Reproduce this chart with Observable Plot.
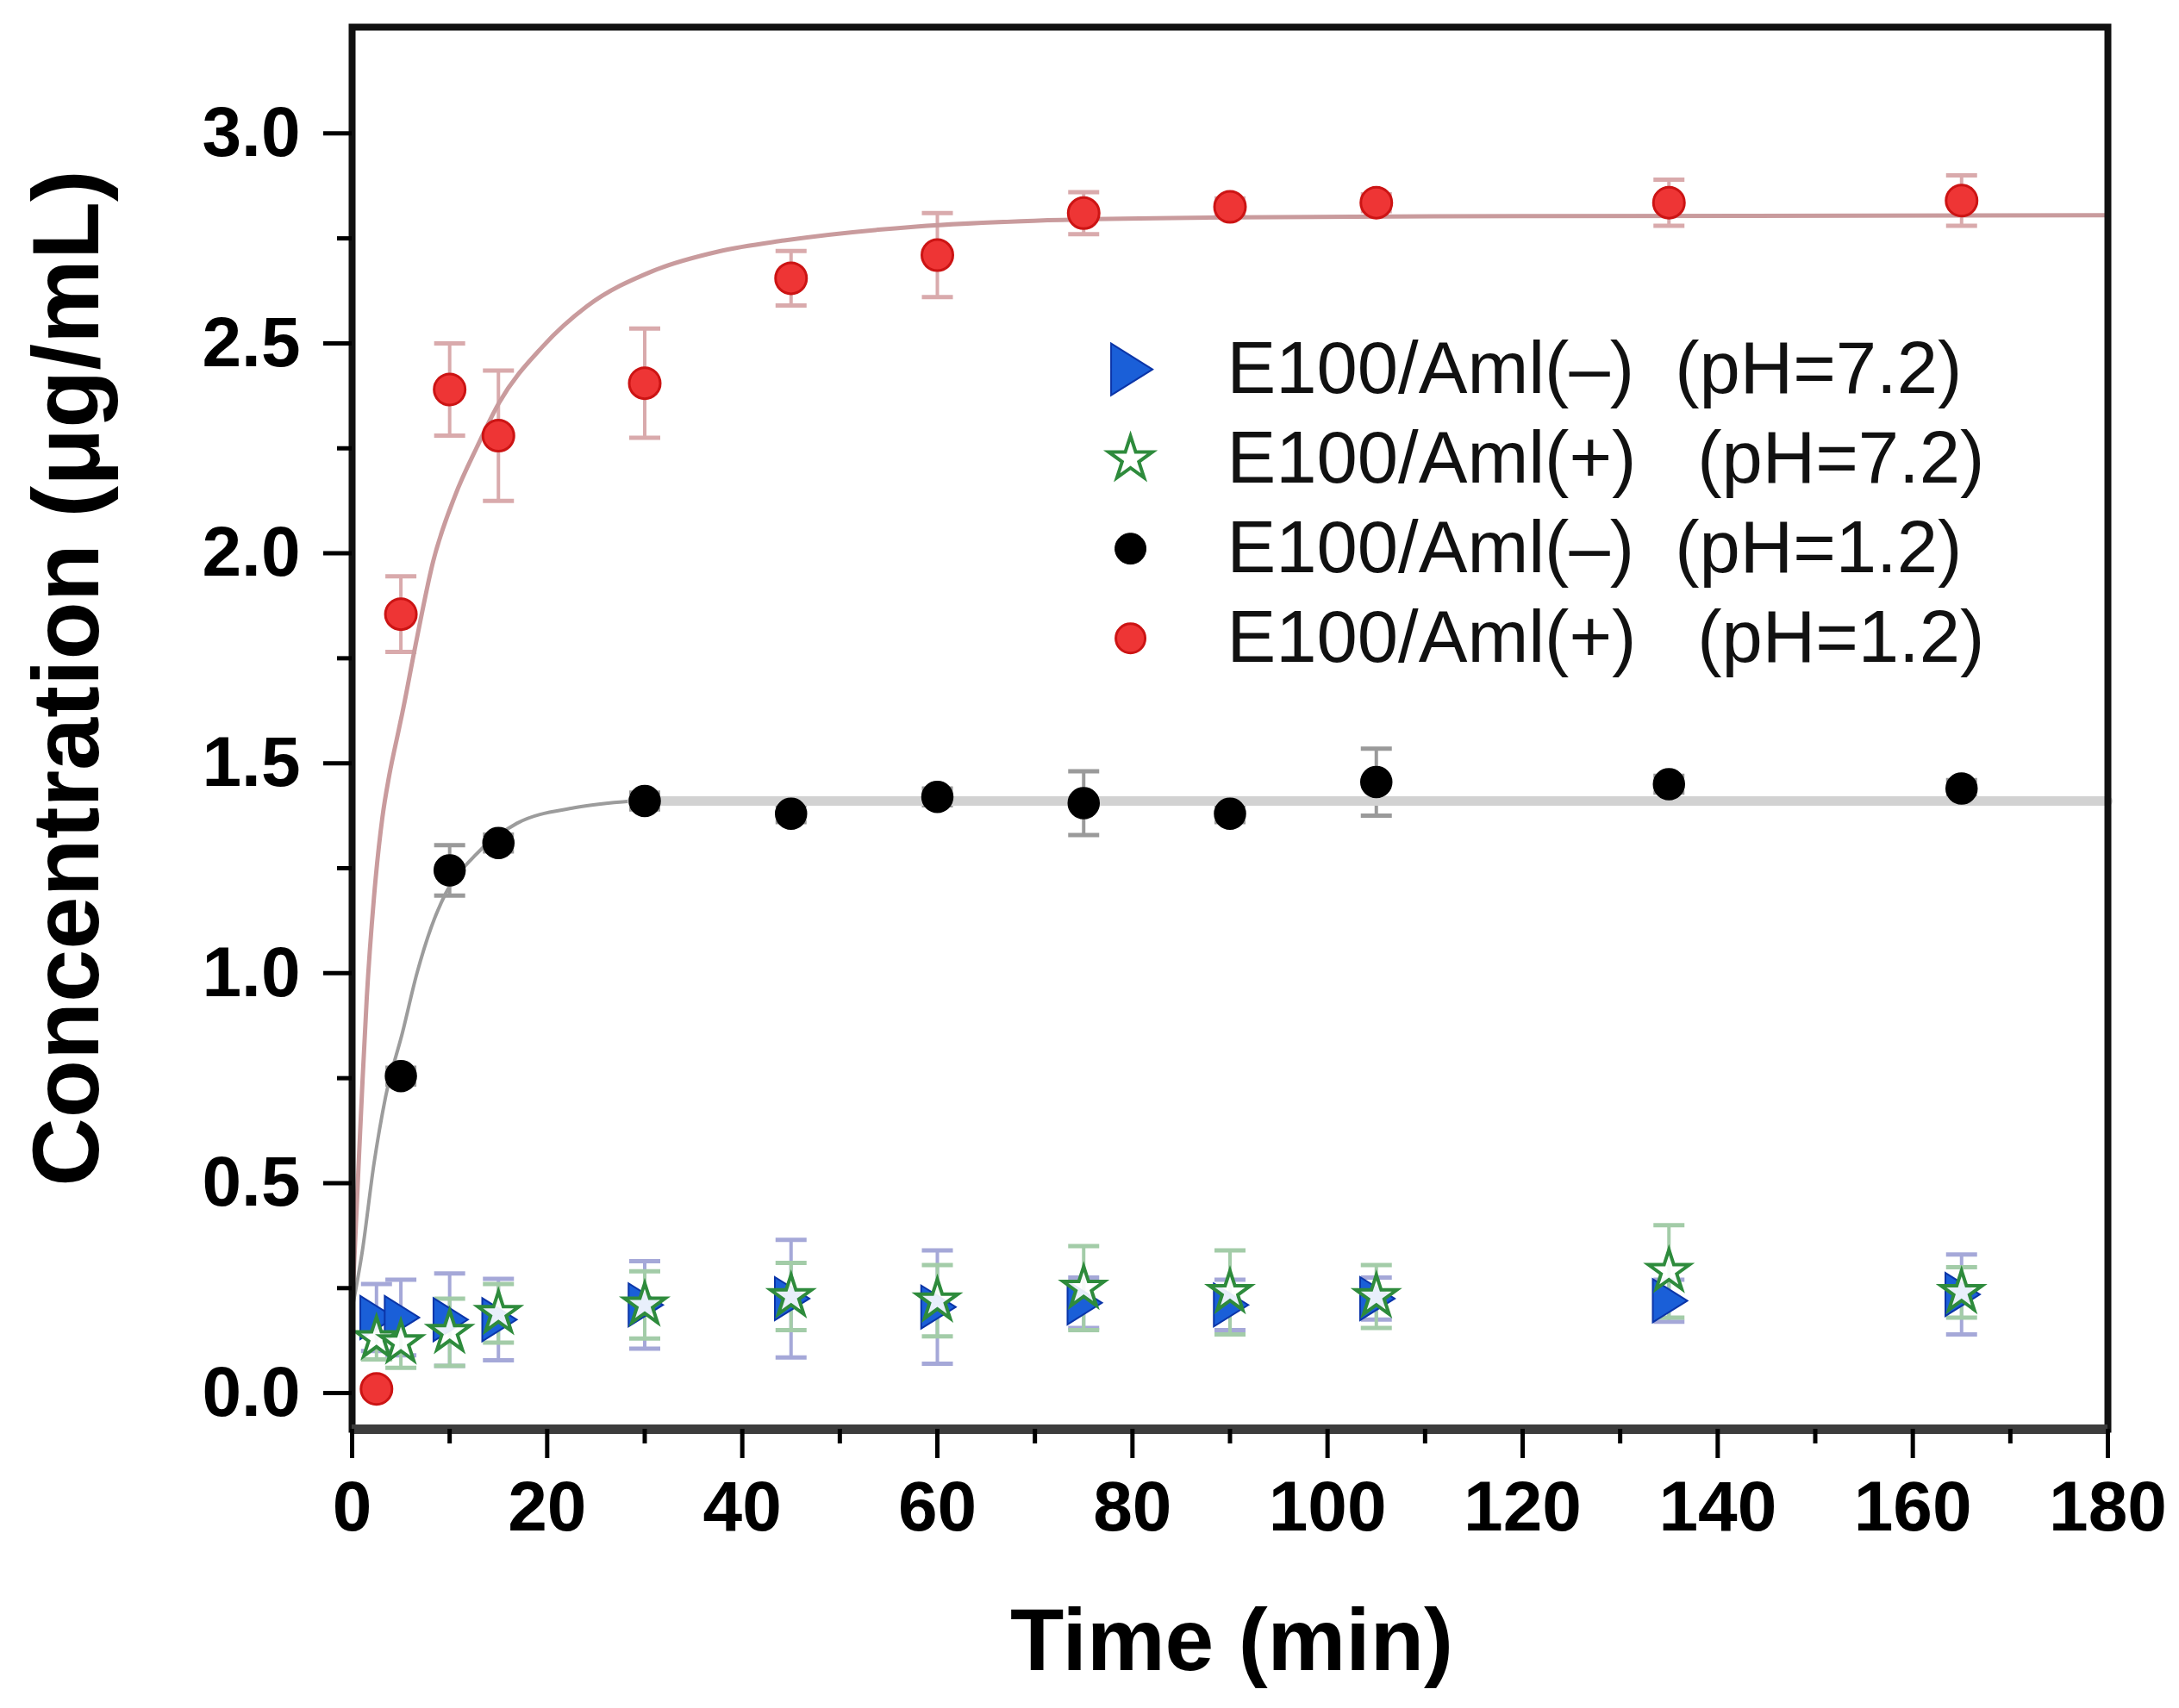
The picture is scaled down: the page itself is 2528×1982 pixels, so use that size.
<!DOCTYPE html>
<html>
<head>
<meta charset="utf-8">
<script src="https://cdn.jsdelivr.net/npm/d3@7"></script>
<script src="https://cdn.jsdelivr.net/npm/@observablehq/plot@0.6"></script>
<style>
  html, body { margin: 0; padding: 0; background: #fff; }
</style>
</head>
<body>
<div id="chart"></div>
<script>
// axes
var timeDomain = [0, 180];
var concDomain = [-0.086, 3.253];
var timeTicks = [0, 20, 40, 60, 80, 100, 120, 140, 160, 180];
var timeMinorTicks = [10, 30, 50, 70, 90, 110, 130, 150, 170];
var concTicks = [0, 0.5, 1, 1.5, 2, 2.5, 3];
var concMinorTicks = [0.25, 0.75, 1.25, 1.75, 2.25, 2.75];
var axisTitleX = "Time (min)";
var axisTitleY = "Concentration (\u03bcg/mL)";

// sampling times
var sampleTimes = [2.5, 5, 10, 15, 30, 45, 60, 75, 90, 105, 135, 165];
var sampleTimesPh12Minus = [5, 10, 15, 30, 45, 60, 75, 90, 105, 135, 165];

// E100/Aml(-) pH 7.2
var minusPh72 = [0.18, 0.18, 0.175, 0.175, 0.21, 0.225, 0.205, 0.215, 0.21, 0.225, 0.22, 0.235];
var minusPh72Err = [0.08, 0.09, 0.11, 0.097, 0.104, 0.14, 0.135, 0.06, 0.06, 0.05, 0.05, 0.095];
// E100/Aml(+) pH 7.2
var plusPh72 = [0.13, 0.12, 0.145, 0.19, 0.21, 0.23, 0.22, 0.25, 0.24, 0.23, 0.29, 0.24];
var plusPh72Err = [0.05, 0.06, 0.08, 0.07, 0.08, 0.08, 0.085, 0.1, 0.1, 0.075, 0.11, 0.06];
// E100/Aml(-) pH 1.2
var minusPh12 = [0.755, 1.245, 1.31, 1.41, 1.38, 1.42, 1.405, 1.38, 1.455, 1.45, 1.44];
var minusPh12Err = [0.02, 0.06, 0.02, 0.02, 0.02, 0.02, 0.076, 0.02, 0.08, 0.02, 0.02];
// E100/Aml(+) pH 1.2
var plusPh12 = [0.01, 1.855, 2.39, 2.28, 2.405, 2.655, 2.71, 2.81, 2.825, 2.835, 2.835, 2.84];
var plusPh12Err = [0, 0.09, 0.11, 0.155, 0.13, 0.065, 0.1, 0.05, 0.02, 0.02, 0.055, 0.06];

// fitted curves
var fitTimesPlus12 = [0, 0.62, 1.06, 1.5, 2.24, 3.1, 3.8, 4.74, 5.15, 6.5, 8.3, 10.55, 12.8, 15.06, 19.56, 24.06, 30.8, 37.6, 44.3, 57.8, 69.9, 90, 120, 180];
var fitPlus12 = [0.2, 0.52, 0.74, 0.94, 1.18, 1.37, 1.47, 1.575, 1.62, 1.781, 1.98, 2.137, 2.253, 2.358, 2.493, 2.588, 2.672, 2.719, 2.745, 2.778, 2.792, 2.8, 2.803, 2.805];
var fitTimesMinus12 = [0, 1.06, 2.24, 3.41, 5.18, 6.65, 8.12, 9.59, 12.5, 16.9, 22.8, 28.7, 60, 120, 180];
var fitMinus12 = [0.2, 0.34, 0.546, 0.703, 0.86, 1.0, 1.11, 1.19, 1.278, 1.357, 1.394, 1.41, 1.41, 1.41, 1.41];

var seriesNames = [
  "E100/Aml(\u2013)\u00a0\u00a0(pH=7.2)",
  "E100/Aml(+)\u00a0\u00a0\u00a0(pH=7.2)",
  "E100/Aml(\u2013)\u00a0\u00a0(pH=1.2)",
  "E100/Aml(+)\u00a0\u00a0\u00a0(pH=1.2)"
];

(function() {
  "use strict";

  var FONT = "'Liberation Sans', Arial, Helvetica, sans-serif";
  var plateauStart = 28.7;

  function rows(times, values, errors) {
    return times.map(function(t, i) {
      return { time: t, value: values[i], err: errors ? errors[i] : 0 };
    });
  }

  // horizontal bar used as error-bar cap
  var capSymbol = {
    draw: function(context, size) {
      var w = Math.sqrt(size / Math.PI);
      context.moveTo(-w, 0);
      context.lineTo(w, 0);
    }
  };

  // right-pointing triangle
  var triangleRight = {
    draw: function(context, size) {
      var r = Math.sqrt(size / Math.PI);
      context.moveTo(0.85 * r, 0);
      context.lineTo(-0.75 * r, -r);
      context.lineTo(-0.75 * r, r);
      context.closePath();
    }
  };

  function errorMarks(data, color) {
    var withErr = data.filter(function(d) { return d.err > 0; });
    return [
      Plot.ruleX(withErr, {
        x: "time",
        y1: function(d) { return d.value - d.err; },
        y2: function(d) { return d.value + d.err; },
        stroke: color,
        strokeWidth: 4
      }),
      Plot.dot(withErr, {
        x: "time",
        y: function(d) { return d.value + d.err; },
        symbol: capSymbol, r: 18, fill: "none", stroke: color, strokeWidth: 5
      }),
      Plot.dot(withErr, {
        x: "time",
        y: function(d) { return d.value - d.err; },
        symbol: capSymbol, r: 18, fill: "none", stroke: color, strokeWidth: 5
      })
    ];
  }

  var minus72 = rows(sampleTimes, minusPh72, minusPh72Err);
  var plus72 = rows(sampleTimes, plusPh72, plusPh72Err);
  var minus12 = rows(sampleTimesPh12Minus, minusPh12, minusPh12Err);
  var plus12 = rows(sampleTimes, plusPh12, plusPh12Err);
  var fitRed = rows(fitTimesPlus12, fitPlus12);
  var fitBlack = rows(fitTimesMinus12, fitMinus12);

  // legend layout (in data units, inside the frame)
  var legendMarkX = 79.8;
  var legendTextX = 89.7;
  var legendTop = 2.438;
  var legendStep = 0.2135;
  function legendY(i) { return legendTop - i * legendStep; }

  var legendStyles = [
    { symbol: triangleRight, r: 30, fill: "#1a5fd8", stroke: "#0b35a8", strokeWidth: 2 },
    { symbol: "star", r: 16, fill: "#fff", stroke: "#2e8b3c", strokeWidth: 4 },
    { symbol: "circle", r: 18, fill: "#000", stroke: "#000", strokeWidth: 1 },
    { symbol: "circle", r: 17, fill: "#ee3535", stroke: "#cc1414", strokeWidth: 3 }
  ];

  var marks = [];

  marks = marks.concat(errorMarks(minus12, "#9a9a9a"));
  marks = marks.concat(errorMarks(plus12, "#d9aaac"));
  marks = marks.concat(errorMarks(minus72, "#a5a8d8"));
  marks = marks.concat(errorMarks(plus72, "#a3cca8"));

  // fitted curves
  marks.push(Plot.line(fitRed, {
    x: "time", y: "value", curve: "monotone-x", stroke: "#c99b9d", strokeWidth: 5
  }));
  marks.push(Plot.line(fitBlack.filter(function(d) { return d.time <= plateauStart; }), {
    x: "time", y: "value", curve: "monotone-x", stroke: "#9c9c9c", strokeWidth: 4
  }));
  marks.push(Plot.line(fitBlack.filter(function(d) { return d.time >= plateauStart; }), {
    x: "time", y: "value", stroke: "#d2d2d2", strokeWidth: 11
  }));

  // data points
  marks.push(Plot.dot(minus12, {
    x: "time", y: "value", r: 18, fill: "#000", stroke: "#000"
  }));
  marks.push(Plot.dot(plus12, {
    x: "time", y: "value", r: 18, fill: "#ee3535", stroke: "#cc1414", strokeWidth: 3
  }));
  marks.push(Plot.dot(minus72, {
    x: "time", y: "value", symbol: triangleRight, r: 25,
    fill: "#1a5fd8", stroke: "#0b35a8", strokeWidth: 2
  }));
  marks.push(Plot.dot(plus72, {
    x: "time", y: "value", symbol: "star", r: 15,
    fill: "#fff", fillOpacity: 0.9, stroke: "#2e8b3c", strokeWidth: 4
  }));

  // legend
  seriesNames.forEach(function(name, i) {
    var st = legendStyles[i];
    marks.push(Plot.dot([name], {
      x: function() { return legendMarkX; },
      y: function() { return legendY(i); },
      symbol: st.symbol, r: st.r, fill: st.fill, stroke: st.stroke, strokeWidth: st.strokeWidth
    }));
  });
  marks.push(Plot.text(seriesNames, {
    x: function() { return legendTextX; },
    y: function(d, i) { return legendY(i); },
    text: function(d) { return d; },
    textAnchor: "start",
    lineAnchor: "middle",
    fontSize: 85,
    fill: "#111"
  }));

  // frame and axes
  marks.push(Plot.frame({ stroke: "#111", strokeWidth: 8 }));
  marks.push(Plot.ruleY([concDomain[0]], { stroke: "#3c3c3c", strokeWidth: 11 }));

  marks.push(Plot.axisX({
    ticks: timeTicks, tickSize: 34, tickPadding: 25, strokeWidth: 5,
    fontSize: 82, fontWeight: "bold", tickFormat: d3.format("d"), label: null
  }));
  marks.push(Plot.axisX({
    ticks: timeMinorTicks, tickSize: 17, strokeWidth: 5,
    tickFormat: function() { return ""; }, label: null
  }));
  marks.push(Plot.axisY({
    ticks: concTicks, tickSize: 33, tickPadding: 27, strokeWidth: 5,
    fontSize: 82, fontWeight: "bold", tickFormat: d3.format(".1f"), label: null
  }));
  marks.push(Plot.axisY({
    ticks: concMinorTicks, tickSize: 17, strokeWidth: 5,
    tickFormat: function() { return ""; }, label: null
  }));

  // axis titles
  marks.push(Plot.text([axisTitleX], {
    frameAnchor: "bottom", text: function(d) { return d; },
    dx: 2, dy: 247, textAnchor: "middle", lineAnchor: "middle",
    fontSize: 102, fontWeight: "bold", fill: "#000"
  }));
  marks.push(Plot.text([axisTitleY], {
    frameAnchor: "left", text: function(d) { return d; },
    rotate: -90, dx: -330, dy: -58, textAnchor: "middle", lineAnchor: "middle",
    fontSize: 110, fontWeight: "bold", fill: "#000"
  }));

  var plot = Plot.plot({
    width: 2528,
    height: 1982,
    marginLeft: 408,
    marginRight: 83,
    marginTop: 31,
    marginBottom: 324,
    style: { fontFamily: FONT, background: "#fff", overflow: "visible" },
    x: { domain: timeDomain },
    y: { domain: concDomain },
    marks: marks
  });

  document.getElementById("chart").appendChild(plot);
})();
</script>
</body>
</html>
